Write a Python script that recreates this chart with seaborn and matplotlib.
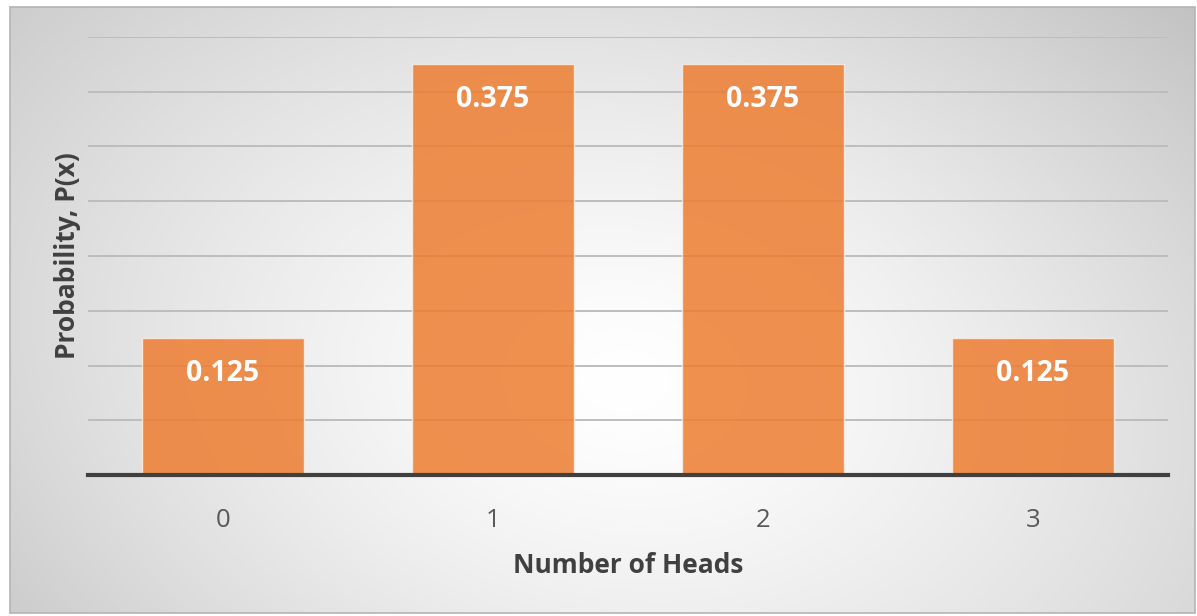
import numpy as np
import seaborn as sns
import matplotlib.pyplot as plt
from matplotlib.patches import Rectangle

# Data
heads = ["0", "1", "2", "3"]
probs = [0.125, 0.375, 0.375, 0.125]
value_labels = ["0.125", "0.375", "0.375", "0.125"]

sns.set_style("white")
plt.rcParams["font.family"] = ["Open Sans", "DejaVu Sans"]

W, H = 1197, 616
fig = plt.figure(figsize=(W / 100, H / 100), dpi=100)

# Radial gradient background (Excel style)
bg = fig.add_axes([0, 0, 1, 1], zorder=0)
yy, xx = np.mgrid[0:H, 0:W]
cx, cy = 620, 380
dx = (xx - cx) / 610
dy = (yy - cy) / 430
r = np.sqrt(dx ** 2 + dy ** 2) / np.sqrt(2)
# slight diagonal tilt: top-right and bottom-left a bit darker
tilt = 0.03 * ((xx - cx) / 600) * ((cy - yy) / 400)
shade = 1.0 - 0.24 * np.clip(r, 0, 1.2) ** 1.4 - tilt
shade = np.clip(shade, 0, 1)
img = np.dstack([shade, shade, shade])
bg.imshow(img, extent=[10, 1195, 613, 7], aspect="auto", interpolation="bilinear")
bg.add_patch(Rectangle((10, 7), 1185, 606, fill=False, edgecolor="#b4b4b4", lw=1.2))
bg.set_xlim(0, W)
bg.set_ylim(H, 0)
bg.axis("off")

# Main chart
ax = fig.add_axes([88 / W, 1 - 475 / H, (1168 - 88) / W, (475 - 37) / H], zorder=1)
ax.patch.set_alpha(0)
sns.barplot(x=heads, y=probs, color="#ED7D31", saturation=1, width=0.6, alpha=0.85,
            edgecolor="#f8efe8", linewidth=1.0, ax=ax, zorder=3)

ax.set_ylim(0, 0.4)
ax.set_xlim(-0.5, 3.5)
ax.set_yticks(np.arange(0, 0.401, 0.05))
ax.yaxis.grid(True, color="#bdbdbd", lw=1.4, zorder=0)
ax.set_axisbelow(True)
ax.tick_params(axis="y", left=False, labelleft=False)
ax.tick_params(axis="x", bottom=False, labelsize=18.5, labelcolor="#595959", pad=20)
for side in ["top", "right", "left"]:
    ax.spines[side].set_visible(False)
ax.spines["bottom"].set_color("#404040")
ax.spines["bottom"].set_linewidth(3)
ax.spines["bottom"].set_zorder(5)

for i, (p, lab) in enumerate(zip(probs, value_labels)):
    ax.annotate(lab, (i, p), xytext=(0, -15), textcoords="offset points",
                ha="center", va="top", fontsize=20.5, fontweight="bold", color="white", zorder=6)

ax.set_xlabel("Number of Heads", fontsize=19, fontweight="bold", color="#404040", labelpad=14)
ax.set_ylabel("Probability, P(x)", fontsize=19, fontweight="bold", color="#404040", labelpad=5)

fig.savefig("out.png", dpi=100)
